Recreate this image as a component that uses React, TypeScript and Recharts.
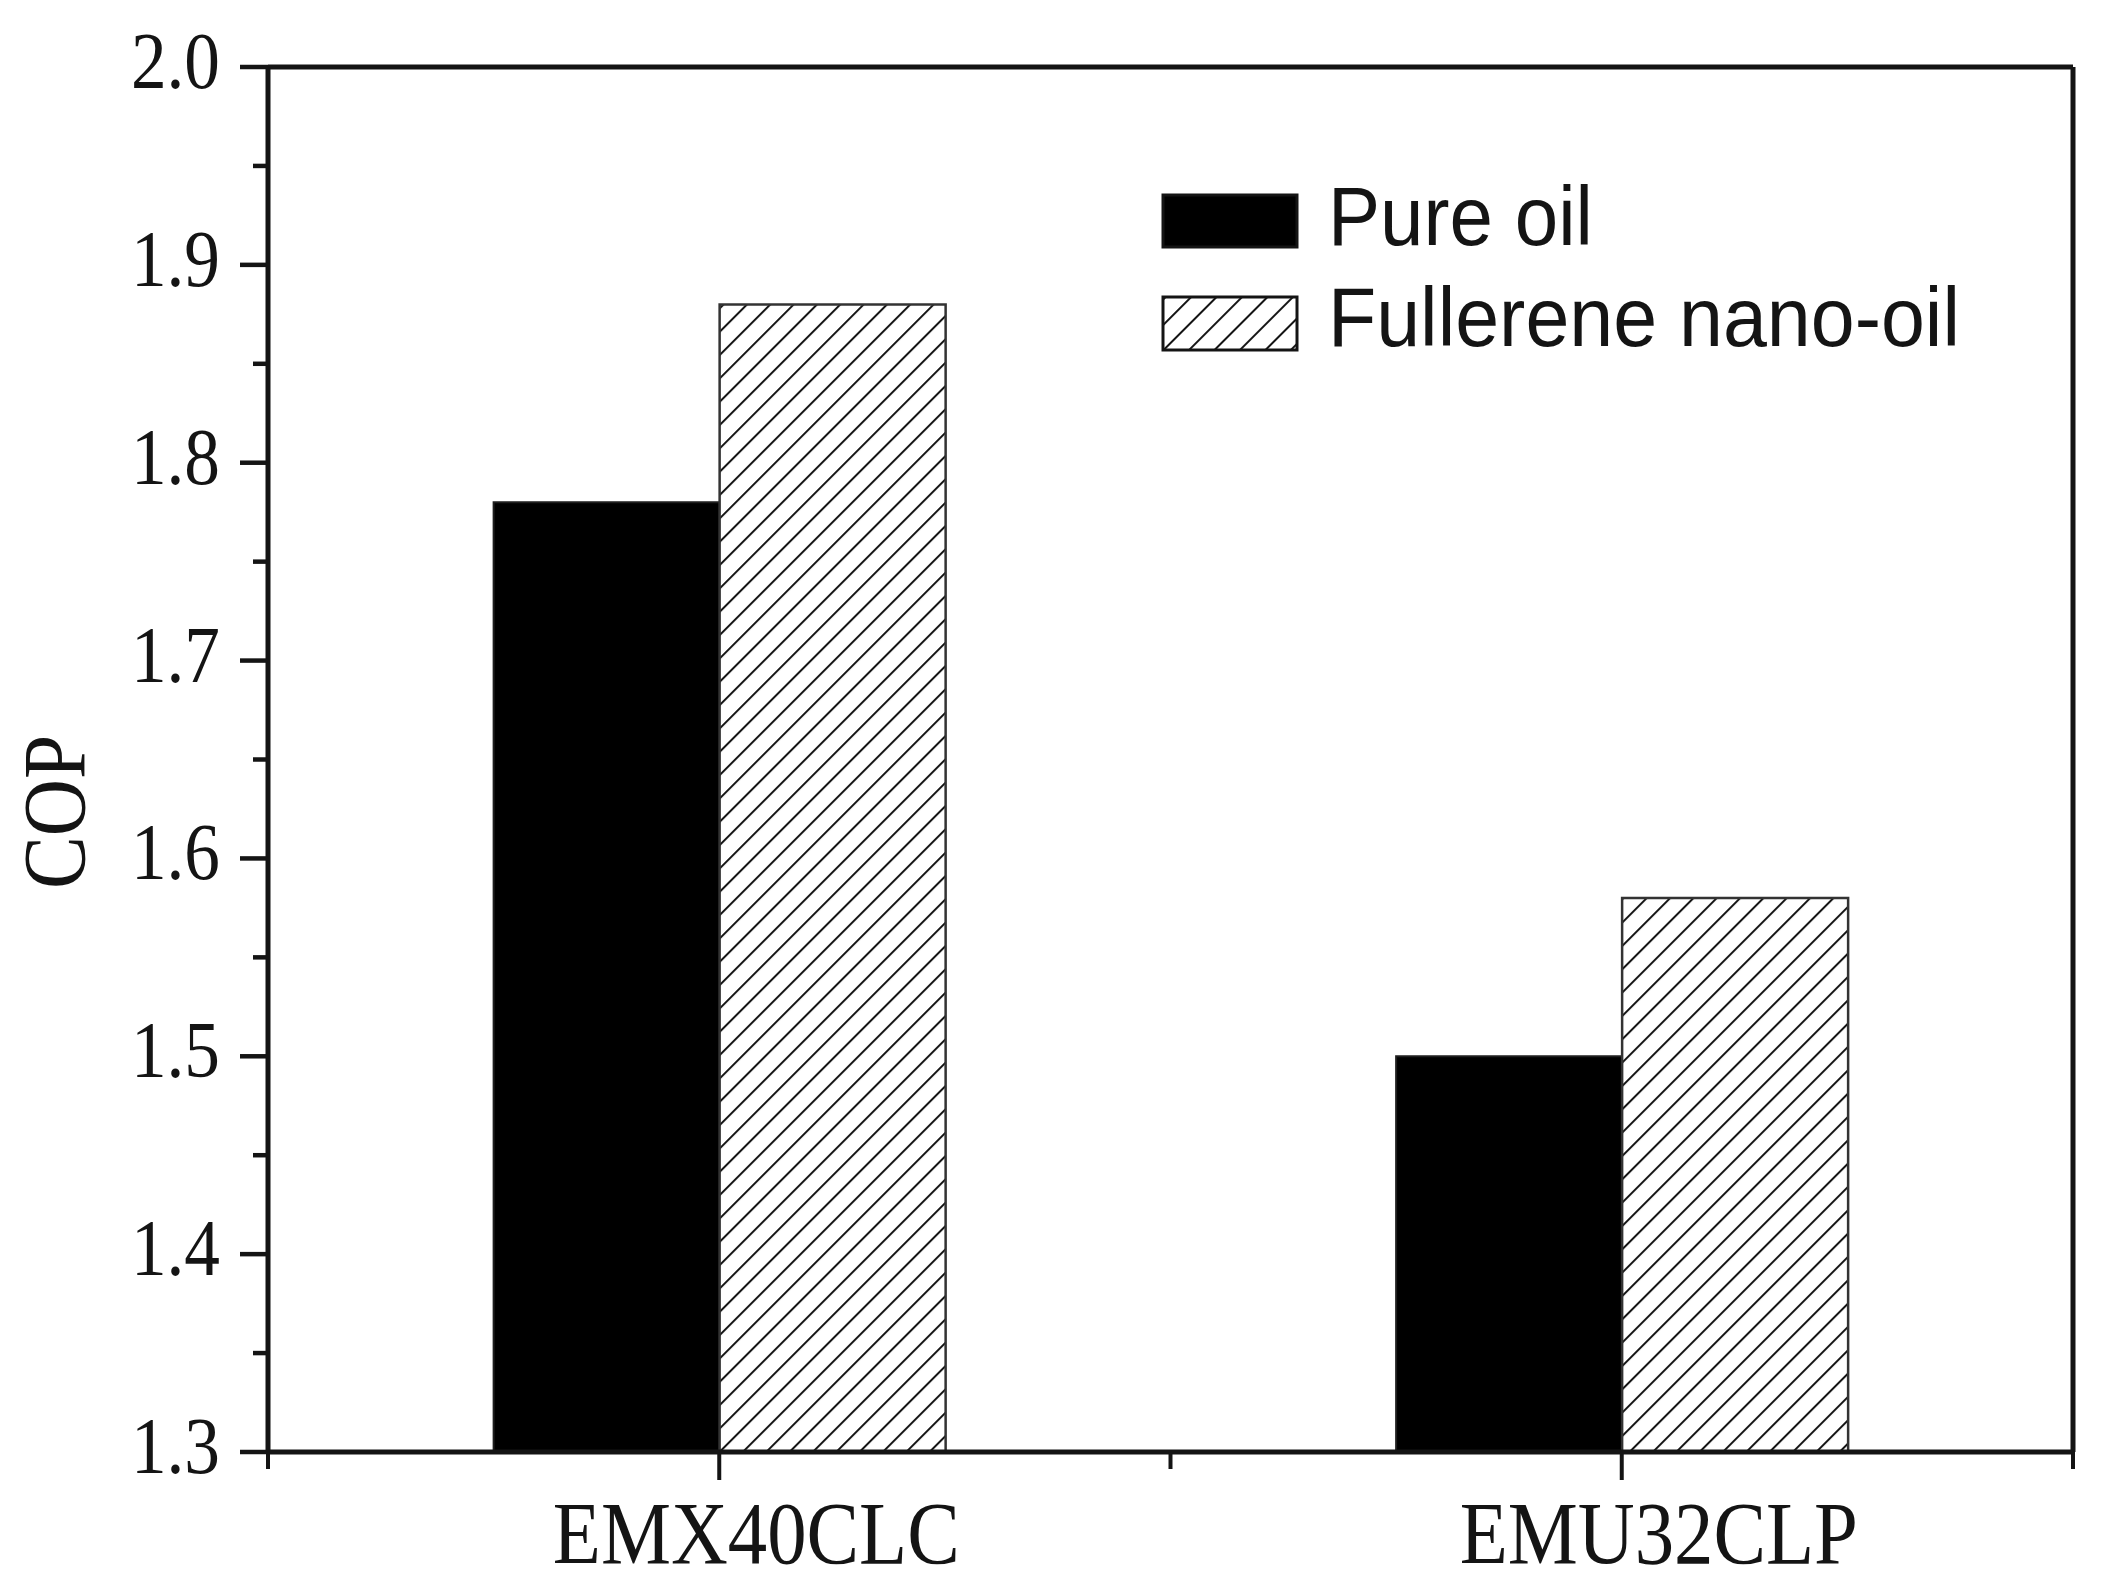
import React from 'react';
import { BarChart, Bar, XAxis, YAxis, Legend } from 'recharts';

const categories = ['EMX40CLC', 'EMU32CLP'];
const pureOil = [1.78, 1.5];
const nanoOil = [1.88, 1.58];
const seriesNames = ['Pure oil', 'Fullerene nano-oil'];
const yTicks = [1.3, 1.35, 1.4, 1.45, 1.5, 1.55, 1.6, 1.65, 1.7, 1.75, 1.8, 1.85, 1.9, 1.95, 2.0];
const yMajor = ['1.3', '1.4', '1.5', '1.6', '1.7', '1.8', '1.9', '2.0'];

const data = categories.map((name, i) => ({ name, pure: pureOil[i], nano: nanoOil[i] }));

const INK = '#141414';
const SERIF = '"Liberation Serif", "Times New Roman", serif';
const SANS = '"Liberation Sans", Arial, sans-serif';

const YTick = (props: any) => {
  const { x, y, payload } = props;
  const label = Number(payload.value).toFixed(1);
  const major = yMajor.includes(label) && Math.abs(payload.value * 10 - Math.round(payload.value * 10)) < 1e-6;
  return (
    <g>
      <line x1={x - (major ? 28 : 15)} x2={x} y1={y} y2={y} stroke={INK} strokeWidth={4.5} />
      {major && (
        <text
          transform={`translate(${x - 48},${y}) scale(0.88,1)`}
          textAnchor="end"
          dy={21}
          fontFamily={SERIF}
          fontSize={81}
          fill={INK}
        >
          {label}
        </text>
      )}
    </g>
  );
};

const XTick = (props: any) => {
  const { x, y, payload, index } = props;
  const half = payload.offset ?? 0;
  return (
    <g>
      <line x1={x} x2={x} y1={y} y2={y + 28} stroke={INK} strokeWidth={4} />
      {index === 0 && <line x1={x - half} x2={x - half} y1={y} y2={y + 17} stroke={INK} strokeWidth={4} />}
      <line x1={x + half} x2={x + half} y1={y} y2={y + 17} stroke={INK} strokeWidth={4} />
      <text
        transform={`translate(${x + 37},${y + 111}) scale(0.895,1)`}
        textAnchor="middle"
        fontFamily={SERIF}
        fontSize={88}
        fill={INK}
      >
        {payload.value}
      </text>
    </g>
  );
};

const CopLabel = () => (
  <text
    transform="translate(55,812) rotate(-90) scale(0.9,1)"
    textAnchor="middle"
    dy={29}
    fontFamily={SERIF}
    fontSize={88}
    fill={INK}
  >
    COP
  </text>
);

// legend svg is placed 20px above the swatch top so the caps are not clipped
const LegendBox = () => (
  <svg width={820} height={190} style={{ display: 'block', overflow: 'visible' }}>
    <defs>
      <pattern id="hatchLegend" patternUnits="userSpaceOnUse" width={18} height={18} patternTransform="rotate(45)">
        <rect x={0} y={0} width={18} height={18} fill="#fff" />
        <line x1={0} y1={0} x2={0} y2={18} stroke={INK} strokeWidth={4} />
      </pattern>
    </defs>
    <rect x={2} y={22} width={134} height={52} fill="#000" stroke={INK} strokeWidth={3} />
    <rect x={2} y={124} width={134} height={53} fill="url(#hatchLegend)" stroke={INK} strokeWidth={3} />
    <text transform="translate(167,72) scale(0.93,1)" fontFamily={SANS} fontSize={84} fill={INK}>
      {seriesNames[0]}
    </text>
    <text transform="translate(167,173) scale(0.94,1)" fontFamily={SANS} fontSize={84} fill={INK}>
      {seriesNames[1]}
    </text>
  </svg>
);

export default function App() {
  const axisLine = { stroke: INK, strokeWidth: 5 };
  return (
    <div style={{ position: 'absolute', left: 0, top: 0, width: 2102, height: 1584, background: '#fff' }}>
      <BarChart
        width={2102}
        height={1584}
        data={data}
        margin={{ top: 66, right: 28, left: 0, bottom: 0 }}
        barGap={0}
        barCategoryGap="25%"
      >
        <defs>
          <pattern id="hatch" patternUnits="userSpaceOnUse" width={16.5} height={16.5} patternTransform="rotate(45)">
            <rect x={0} y={0} width={16.5} height={16.5} fill="#fff" />
            <line x1={0} y1={0} x2={0} y2={16.5} stroke={INK} strokeWidth={4} />
          </pattern>
        </defs>
        <XAxis
          dataKey="name"
          height={132}
          interval={0}
          tickSize={0}
          tickMargin={0}
          tickLine={false}
          axisLine={axisLine}
          tick={<XTick />}
        />
        <XAxis
          xAxisId="top"
          dataKey="name"
          orientation="top"
          height={1}
          tick={false}
          tickLine={false}
          axisLine={axisLine}
        />
        <YAxis
          type="number"
          domain={[1.3, 2.0]}
          ticks={yTicks}
          interval={0}
          width={268}
          tickSize={0}
          tickMargin={0}
          tickLine={false}
          axisLine={axisLine}
          tick={<YTick />}
          label={<CopLabel />}
          allowDataOverflow
        />
        <YAxis
          yAxisId="right"
          orientation="right"
          width={1}
          tick={false}
          tickLine={false}
          axisLine={axisLine}
        />
        <Legend
          layout="horizontal"
          verticalAlign="middle"
          align="center"
          content={<LegendBox />}
          wrapperStyle={{ position: 'absolute', left: 1161, top: 173, width: 820, height: 190 }}
        />
        <Bar dataKey="pure" name={seriesNames[0]} fill="#000" stroke="#1e1e1e" strokeWidth={2} isAnimationActive={false} />
        <Bar dataKey="nano" name={seriesNames[1]} fill="url(#hatch)" stroke="#333" strokeWidth={2.5} isAnimationActive={false} />
      </BarChart>
    </div>
  );
}
